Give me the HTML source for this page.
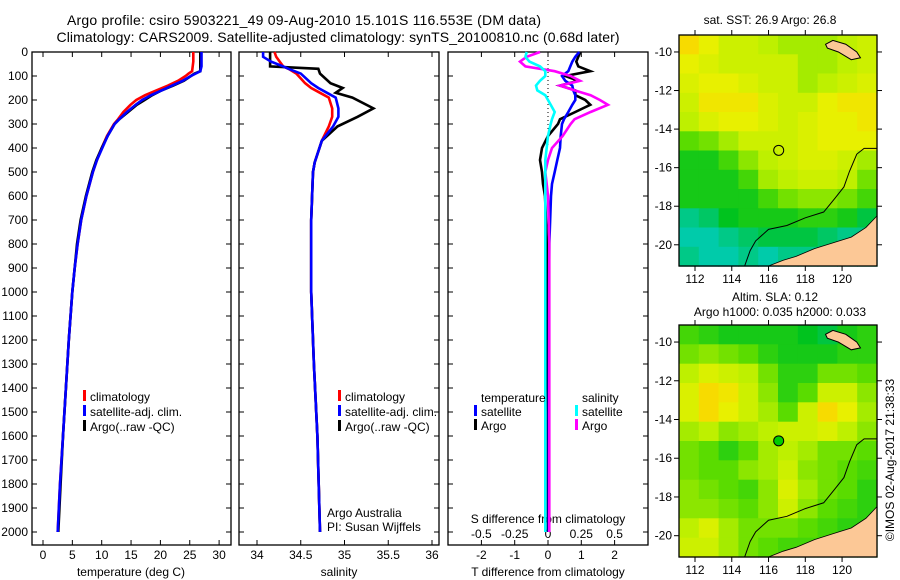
<!DOCTYPE html>
<html><head><meta charset="utf-8"><style>
html,body{margin:0;padding:0;background:#fff;}
svg{display:block;font-family:"Liberation Sans",sans-serif;}
</style></head><body>
<svg id="fig" width="900" height="580" viewBox="0 0 900 580">
<text x="304" y="25" font-size="14" text-anchor="middle" textLength="474">Argo profile: csiro 5903221_49 09-Aug-2010 15.101S 116.553E (DM data)</text>
<text x="338" y="42" font-size="14" text-anchor="middle" textLength="563">Climatology: CARS2009. Satellite-adjusted climatology: synTS_20100810.nc (0.68d later)</text>
<g id="g"></g>
</svg>
<script>
// ---------- data ----------
const depthT=[0,20,40,60,80,90,100,120,140,160,180,200,220,250,280,300,350,400,450,500,600,700,800,900,1000,1200,1400,1600,1800,2000];
const argoT=[26.8,26.8,26.8,26.8,26.8,25.8,25.2,24,22.2,20.2,18.6,17.3,16,14.5,13,12.2,11,10,9.1,8.4,7.3,6.4,5.8,5.4,5.0,4.4,3.9,3.4,3.0,2.6];
const climT=[25.6,25.6,25.6,25.5,25.4,24.8,24.3,23,21.3,19.3,17.4,15.9,14.9,13.7,12.8,12.1,10.9,10,9.2,8.5,7.4,6.5,5.9,5.4,5.0,4.4,3.9,3.4,2.9,2.5];
const satT=[27.0,27.0,27.0,27.0,26.8,26,25.2,23.8,22,20.2,18.4,16.9,15.8,14.3,13,12.2,11,10.1,9.2,8.5,7.4,6.5,5.9,5.4,5.0,4.4,3.9,3.4,2.9,2.5];
const depthS=[0,20,40,60,70,90,130,150,170,190,235,270,310,370,460,500,700,1000,1300,1600,2000];
const argoS=[34.15,34.15,34.15,34.15,34.7,34.72,34.84,34.98,34.9,35.09,35.33,35.15,34.92,34.74,34.66,34.64,34.62,34.62,34.65,34.69,34.72];
const climS=[34.2,34.22,34.26,34.3,34.36,34.45,34.55,34.62,34.72,34.82,34.86,34.86,34.82,34.74,34.66,34.64,34.62,34.62,34.65,34.69,34.72];
const satS=[34.07,34.07,34.16,34.3,34.36,34.5,34.62,34.7,34.8,34.9,34.93,34.93,34.87,34.74,34.66,34.64,34.62,34.62,34.65,34.69,34.72];
const depthD=[0,20,40,60,80,100,120,140,160,180,200,220,250,280,300,350,400,450,500,550,600,800,1000,1500,2000];
const argoTd=[0.97,0.91,0.85,0.91,1.27,0.52,0.91,0.36,0.82,0.82,1.12,1.27,0.82,0.36,0.3,0,-0.18,-0.24,-0.18,-0.15,-0.09,-0.03,-0.03,0,0];
const satTd=[0.94,0.82,0.73,0.67,0.61,0.42,0.52,0.73,0.76,0.82,0.82,0.73,0.61,0.48,0.42,0.38,0.36,0.28,0.2,0.12,0.09,0.04,0.03,0.02,0.02];
const argoSd=[-0.06,-0.16,-0.21,-0.17,0.05,0.17,0.24,0.09,0.2,0.32,0.39,0.45,0.32,0.2,0.17,0.11,0.03,0,-0.02,-0.01,0,0.01,0.01,0.01,0.01];
const satSd=[-0.16,-0.17,-0.14,-0.06,-0.02,-0.02,-0.06,-0.09,-0.08,-0.02,0,0.02,0.05,0.03,0.02,0,-0.01,-0.02,-0.02,-0.02,-0.02,-0.02,-0.02,-0.02,-0.02];
const depthTicks=[0,100,200,300,400,500,600,700,800,900,1000,1100,1200,1300,1400,1500,1600,1700,1800,1900,2000];
const tTicks=[0,5,10,15,20,25,30];
const sTicks=[34,34.5,35,35.5,36];
const tdTicks=[-2,-1,0,1,2];
const sdTicks=[-0.5,-0.25,0,0.25,0.5];
const sdTickLabels=["-0.5","-0.25","0","0.25","0.5"];
const lonTicks=[112,114,116,118,120];
const latTicks=[-10,-12,-14,-16,-18,-20];
const sstGrid=[
[0.9,0.8,0.7,0.7,0.65,0.6,0.6,0.6,0.65,0.7],
[0.8,0.75,0.7,0.7,0.7,0.7,0.6,0.6,0.65,0.7],
[0.75,0.8,0.8,0.75,0.7,0.7,0.6,0.65,0.7,0.75],
[0.7,0.85,0.85,0.85,0.75,0.7,0.7,0.8,0.85,0.85],
[0.65,0.75,0.8,0.8,0.75,0.7,0.75,0.8,0.8,0.85],
[0.45,0.5,0.6,0.7,0.7,0.7,0.75,0.8,0.8,0.8],
[0.3,0.3,0.4,0.55,0.65,0.7,0.75,0.75,0.7,0.6],
[0.3,0.3,0.3,0.4,0.6,0.65,0.7,0.7,0.65,0.5],
[0.3,0.3,0.3,0.3,0.4,0.5,0.55,0.55,0.5,0.4],
[0.1,0.15,0.25,0.3,0.3,0.3,0.35,0.35,0.3,0.2],
[0.05,0.05,0.1,0.15,0.2,0.2,0.2,0.15,0.1,0.1],
[0.1,0.05,0.05,0.1,0.05,0.1,0.1,0.1,0.1,0.1]];
const slaGrid=[
[0.4,0.35,0.3,0.3,0.3,0.3,0.25,0.2,0.3,0.35],
[0.5,0.55,0.5,0.45,0.35,0.3,0.3,0.3,0.35,0.35],
[0.65,0.75,0.7,0.65,0.5,0.35,0.35,0.5,0.5,0.45],
[0.75,0.9,0.85,0.7,0.55,0.35,0.45,0.7,0.7,0.55],
[0.75,0.9,0.8,0.7,0.6,0.45,0.7,0.9,0.8,0.6],
[0.6,0.65,0.55,0.6,0.65,0.7,0.7,0.75,0.65,0.55],
[0.5,0.45,0.35,0.45,0.6,0.65,0.6,0.5,0.5,0.45],
[0.5,0.45,0.45,0.55,0.6,0.7,0.55,0.5,0.45,0.4],
[0.55,0.5,0.45,0.4,0.55,0.75,0.6,0.5,0.45,0.35],
[0.55,0.55,0.5,0.45,0.55,0.7,0.55,0.45,0.4,0.35],
[0.65,0.75,0.6,0.5,0.5,0.5,0.45,0.4,0.35,0.35],
[0.7,0.7,0.6,0.5,0.45,0.4,0.4,0.4,0.4,0.4]];
const landLon=[121.9,121.3,120.5,119.5,118.5,117.5,116.8,116.0,121.9];
const landLat=[-18.5,-19.1,-19.6,-19.9,-20.2,-20.6,-20.8,-21.1,-21.1];
const islandLon=[119.1,119.5,120.2,120.8,121.0,120.5,119.8,119.2];
const islandLat=[-9.6,-9.4,-9.6,-10.0,-10.3,-10.4,-10.0,-9.8];
const isoLon=[114.7,115.0,115.3,116.0,117.0,118.0,119.0,119.6,120.1,120.4,120.8,121.2,121.9];
const isoLat=[-21.1,-20.3,-19.8,-19.2,-19.0,-18.6,-18.3,-17.6,-17.0,-16.2,-15.3,-15.0,-15.0];
const argoLon=116.553, argoLat=-15.101;

// ---------- helpers ----------
const NS="http://www.w3.org/2000/svg";
const G=document.getElementById('g');
function mk(tag,attrs,parent){const e=document.createElementNS(NS,tag);for(const k in attrs)e.setAttribute(k,attrs[k]);(parent||G).appendChild(e);return e;}
function txt(x,y,s,size,anchor,name){const t=mk('text',{x:x,y:y,'font-size':size||12,'text-anchor':anchor||'start'});t.textContent=s;


return t;}
const TOP=52, BOT=545;
const yD=d=>TOP+d*0.24;
const xT=v=>43+v*5.87;
const xS=v=>257+(v-34)*87.5;
const xTd=v=>548+v*33.3;
const xSd=v=>548+v*133.2;

function panel(x0,x1,name){
  const r=mk('rect',{x:x0,y:TOP,width:x1-x0,height:BOT-TOP,fill:'none',stroke:'#000','stroke-width':1.3});
  
  
  depthTicks.forEach(d=>{mk('line',{x1:x0,x2:x0+5,y1:yD(d),y2:yD(d),stroke:'#000'});mk('line',{x1:x1,x2:x1-5,y1:yD(d),y2:yD(d),stroke:'#000'});});
}
function line(xs,ds,fx,color,name,w){
  const pts=xs.map((v,i)=>fx(v).toFixed(1)+','+yD(ds[i]).toFixed(1)).join(' ');
  const p=mk('polyline',{points:pts,fill:'none',stroke:color,'stroke-width':w||2.6,'stroke-linejoin':'miter'});
  
  
}
function xticks(ticks,fx,labels,ylab,name){
  ticks.forEach((t,i)=>{const x=fx(t);mk('line',{x1:x,x2:x,y1:TOP,y2:TOP+5,stroke:'#000'});mk('line',{x1:x,x2:x,y1:BOT,y2:BOT-5,stroke:'#000'});
    txt(x,ylab,labels?labels[i]:String(t),12,'middle',name);});
}
function legendEntry(x,y,color,label,name){
  const b=mk('rect',{x:x,y:y-7,width:3,height:11,fill:color});
  
  
  txt(x+7,y+4,label,12,'start',name);
}

// ---------- panel 1 ----------
panel(32,231,'temperature-panel');
depthTicks.forEach(d=>txt(28,yD(d)+4,String(d),12,'end','depth-tick-label'));
xticks(tTicks,xT,null,559,'temperature-tick-label');
txt(131,576,'temperature (deg C)',12,'middle','temperature-axis-title');
line(climT,depthT,xT,'#f00','climatology-temperature-line');
line(argoT,depthT,xT,'#000','argo-temperature-line');
line(satT,depthT,xT,'#00f','satellite-temperature-line');
legendEntry(83,397,'#f00','climatology','legend-climatology');
legendEntry(83,412,'#00f','satellite-adj. clim.','legend-satellite');
legendEntry(83,427,'#000','Argo(..raw -QC)','legend-argo');

// ---------- panel 2 ----------
panel(239,439,'salinity-panel');
xticks(sTicks,xS,null,559,'salinity-tick-label');
txt(339,576,'salinity',12,'middle','salinity-axis-title');
line(climS,depthS,xS,'#f00','climatology-salinity-line');
line(argoS,depthS,xS,'#000','argo-salinity-line');
line(satS,depthS,xS,'#00f','satellite-salinity-line');
legendEntry(338,397,'#f00','climatology','legend-climatology-2');
legendEntry(338,412,'#00f','satellite-adj. clim.','legend-satellite-2');
legendEntry(338,427,'#000','Argo(..raw -QC)','legend-argo-2');
txt(327,517,'Argo Australia',12,'start','credit-argo-australia');
txt(327,531,'PI: Susan Wijffels',12,'start','credit-pi');

// ---------- panel 3 ----------
panel(448,648,'difference-panel');
mk('line',{x1:548,x2:548,y1:TOP,y2:yD(400),stroke:'#000','stroke-dasharray':'1,3'});
xticks(tdTicks,xTd,null,559,'t-difference-tick-label');
sdTicks.forEach((t,i)=>txt(xSd(t),538,sdTickLabels[i],12,'middle','s-difference-tick-label'));
txt(548,523,'S difference from climatology',12,'middle','s-difference-axis-title');
txt(548,576,'T difference from climatology',12,'middle','t-difference-axis-title');
line(argoTd,depthD,xTd,'#000','argo-t-difference-line');
line(satTd,depthD,xTd,'#00f','satellite-t-difference-line');
line(argoSd,depthD,xSd,'#f0f','argo-s-difference-line');
line(satSd,depthD,xSd,'#0ff','satellite-s-difference-line');
txt(481,402,'temperature',12,'start','legend-temperature-header');
txt(582,402,'salinity',12,'start','legend-salinity-header');
legendEntry(474,412,'#00f','satellite','legend-t-satellite');
legendEntry(474,426,'#000','Argo','legend-t-argo');
legendEntry(575,412,'#0ff','satellite','legend-s-satellite');
legendEntry(575,426,'#f0f','Argo','legend-s-argo');

// ---------- maps ----------
const stops=[[0,[0,205,205]],[0.25,[0,195,30]],[0.45,[90,220,0]],[0.65,[190,240,0]],[0.8,[232,240,0]],[0.92,[250,215,0]],[1,[250,190,0]]];
function cmap(v){for(let i=1;i<stops.length;i++){if(v<=stops[i][0]){const a=stops[i-1],b=stops[i];const f=(v-a[0])/(b[0]-a[0]);return 'rgb('+a[1].map((c,j)=>Math.round(c+(b[1][j]-c)*f)).join(',')+')';}}return 'rgb(250,190,0)';}
function drawMap(x0,x1,y0,y1,grid,name,filledDot){
  const lon0=111.13,lon1=121.9,lat0=-9.12,lat1=-21.1;
  const fx=l=>x0+(l-lon0)/(lon1-lon0)*(x1-x0);
  const fy=l=>y0+(l-lat0)/(lat1-lat0)*(y1-y0);
  const rows=grid.length, cols=grid[0].length;
  const cw=(x1-x0)/cols, ch=(y1-y0)/rows;
  const g=mk('g',{});
  
  
  grid.forEach((row,r)=>row.forEach((v,c)=>{
    const cell=mk('rect',{x:(x0+c*cw).toFixed(1),y:(y0+r*ch).toFixed(1),width:(cw+0.6).toFixed(1),height:(ch+0.6).toFixed(1),fill:cmap(v)},g);
    
    
  }));
  const land=mk('polygon',{points:landLon.map((l,i)=>fx(l)+','+fy(landLat[i])).join(' '),fill:'#fcc896',stroke:'#000','stroke-width':0.8},g);
  
  
  const isl=mk('polygon',{points:islandLon.map((l,i)=>fx(l)+','+fy(islandLat[i])).join(' '),fill:'#fcc896',stroke:'#000','stroke-width':1},g);
  
  
  const iso=mk('polyline',{points:isoLon.map((l,i)=>fx(l)+','+fy(isoLat[i])).join(' '),fill:'none',stroke:'#000','stroke-width':1},g);
  
  
  const dot=mk('circle',{cx:fx(argoLon),cy:fy(argoLat),r:5,fill:filledDot?'#0c0':'none',stroke:'#000','stroke-width':1},g);
  
  
  mk('rect',{x:x0,y:y0,width:x1-x0,height:y1-y0,fill:'none',stroke:'#000','stroke-width':1.3});
  lonTicks.forEach(l=>{const x=fx(l);mk('line',{x1:x,x2:x,y1:y0,y2:y0-5,stroke:'#000'});mk('line',{x1:x,x2:x,y1:y1,y2:y1+5,stroke:'#000'});txt(x,y1+17,String(l),12,'middle','longitude-tick-label');});
  latTicks.forEach(l=>{const y=fy(l);mk('line',{x1:x0,x2:x0-5,y1:y,y2:y,stroke:'#000'});mk('line',{x1:x1,x2:x1+5,y1:y,y2:y,stroke:'#000'});txt(x0-7,y+4,String(l),12,'end','latitude-tick-label');});
}
drawMap(679,877,35,266,sstGrid,'sst-map',false);
drawMap(679,877,325,557,slaGrid,'sla-map',true);
txt(770,24,'sat. SST: 26.9  Argo: 26.8',12,'middle','sst-map-title');
txt(775,301,'Altim. SLA: 0.12',12,'middle','sla-map-title');
txt(780,316,'Argo h1000: 0.035 h2000: 0.033',12,'middle','sla-map-subtitle');
const c=txt(0,0,'©IMOS 02-Aug-2017 21:38:33',12,'middle','imos-timestamp');
c.setAttribute('transform','translate(894,460) rotate(-90)');
</script>
</body></html>
